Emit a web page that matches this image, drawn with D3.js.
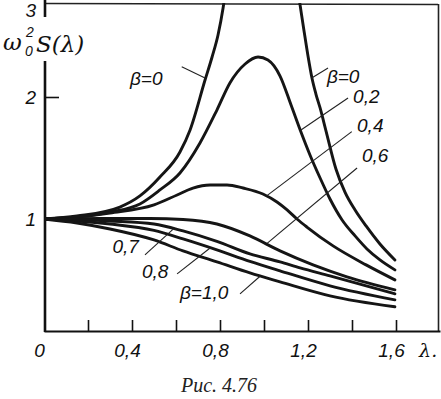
<!DOCTYPE html>
<html><head><meta charset="utf-8">
<script src="https://cdn.jsdelivr.net/npm/d3@7"></script>
<style>body{margin:0;background:#fff}svg{display:block}</style>
</head><body>
<svg id="c" width="441" height="399"></svg>
<script>
// ---- data: [lambda, omega0^2 S(lambda)] ----
const beta0Left = [[0,1],[0.15,1.025],[0.345,1.098],[0.436,1.189],[0.527,1.344],[0.618,1.549],[0.664,1.73],[0.732,2.195],[0.764,2.46],[0.791,2.713],[0.814,3.023],[0.827,3.253]];
const beta0Right = [[1.15,3.287],[1.164,3.057],[1.182,2.759],[1.2,2.471],[1.218,2.218],[1.236,2.034],[1.255,1.91],[1.282,1.721],[1.327,1.41],[1.368,1.221],[1.414,1.074],[1.464,0.943],[1.527,0.795],[1.595,0.664]];
const beta02 = [[0,1],[0.15,1.016],[0.3,1.057],[0.436,1.123],[0.527,1.238],[0.618,1.377],[0.709,1.623],[0.786,1.893],[0.845,2.161],[0.914,2.379],[0.973,2.46],[1.018,2.425],[1.073,2.241],[1.123,1.934],[1.168,1.713],[1.209,1.525],[1.255,1.336],[1.3,1.164],[1.355,0.992],[1.414,0.861],[1.468,0.754],[1.527,0.664],[1.595,0.582]];
const beta04 = [[0,1],[0.15,1.016],[0.3,1.049],[0.5,1.115],[0.605,1.197],[0.677,1.254],[0.755,1.279],[0.832,1.279],[0.905,1.254],[0.995,1.205],[1.059,1.139],[1.105,1.074],[1.15,1.0],[1.195,0.934],[1.314,0.779],[1.464,0.623],[1.595,0.5]];
const beta06 = [[0,1],[0.255,1.004],[0.482,1.004],[0.632,0.996],[0.786,0.959],[0.936,0.861],[1.073,0.738],[1.223,0.623],[1.377,0.525],[1.595,0.418]];
const beta07 = [[0,1],[0.15,0.996],[0.3,0.984],[0.5,0.959],[0.632,0.902],[0.786,0.816],[0.936,0.713],[1.073,0.648],[1.164,0.598],[1.3,0.533],[1.595,0.385]];
const beta08 = [[0,1],[0.15,0.984],[0.3,0.959],[0.5,0.906],[0.632,0.836],[0.786,0.746],[0.936,0.652],[1.073,0.574],[1.3,0.451],[1.595,0.336]];
const beta10 = [[0,1],[0.15,0.967],[0.3,0.918],[0.5,0.828],[0.632,0.738],[0.786,0.648],[0.936,0.557],[1.073,0.484],[1.3,0.369],[1.595,0.279]];
const xTickValues = [0,0.2,0.4,0.6,0.8,1.0,1.2,1.4,1.6];
const xTickLabels = {"0":"0","0.4":"0,4","0.8":"0,8","1.2":"1,2","1.6":"1,6"};
const yTickValues = [1,2,3];
const yTickLabels = ["1","2","3"];
// curve labels: text, label anchor [lambda, value], leader end [lambda, value]
const curveLabels = [
  {t:"β=0", at:[0.391,2.14], from:[0.626,2.348], to:[0.732,2.218]},
  {t:"β=0", at:[1.286,2.16], from:[1.291,2.333], to:[1.217,2.218]},
  {t:"0,2", at:[1.405,1.95], from:[1.382,1.992], to:[1.168,1.73]},
  {t:"0,4", at:[1.423,1.71], from:[1.399,1.716], to:[1.012,1.19]},
  {t:"0,6", at:[1.445,1.47], from:[1.423,1.418], to:[1.014,0.80]},
  {t:"0,7", at:[0.311,0.72], from:[0.459,0.705], to:[0.586,0.915]},
  {t:"0,8", at:[0.445,0.515], from:[0.605,0.549], to:[0.755,0.762]},
  {t:"β=1,0", at:[0.618,0.346], from:[0.891,0.385], to:[0.982,0.53]}
];

const svg = d3.select("#c");
const x = d3.scaleLinear().domain([0,1.8]).range([44,440]);
const y = d3.scaleLinear().domain([0.08,1,2,3]).range([331,219,97,10]);
const font = "'Liberation Sans', Arial, sans-serif";

svg.append("defs").append("clipPath").attr("id","clip")
  .append("rect").attr("x",44).attr("y",3).attr("width",394).attr("height",328);

// frame (top and right)
svg.append("line").attr("x1",44).attr("x2",438).attr("y1",3.5).attr("y2",4.5).attr("stroke","#222").attr("stroke-width",1.6);
svg.append("line").attr("x1",438.5).attr("x2",438.5).attr("y1",4).attr("y2",331).attr("stroke","#222").attr("stroke-width",1.6);

// x axis
const xa = svg.append("g").attr("transform","translate(0,331)")
  .call(d3.axisBottom(x).tickValues(xTickValues).tickSizeInner(-11).tickSizeOuter(0).tickPadding(13)
    .tickFormat(d => xTickLabels[String(+d.toFixed(1))] || ""));
xa.select(".domain").attr("stroke","#111").attr("stroke-width",2.2);
xa.selectAll(".tick line").attr("stroke","#111").attr("stroke-width",1.6);
xa.selectAll(".tick").filter(d => d === 0).select("line").remove();
xa.selectAll("text").attr("font-family",font).attr("font-style","italic").attr("font-size",19).attr("fill","#111").attr("dx",-5);
svg.append("text").attr("x",x(1.705)).attr("y",357).attr("font-family","'DejaVu Serif', serif").attr("font-style","italic")
  .attr("font-size",19).attr("fill","#111").text("λ.");

// y axis
const ya = svg.append("g").attr("transform","translate(44,0)")
  .call(d3.axisLeft(y).tickValues(yTickValues).tickSizeInner(-15).tickSizeOuter(0).tickPadding(8)
    .tickFormat((d,i) => yTickLabels[i]));
ya.select(".domain").remove();
ya.selectAll(".tick line").attr("stroke","#111").attr("stroke-width",1.6);
ya.selectAll(".tick").filter(d => d === 3).select("line").remove();
ya.selectAll("text").attr("font-family",font).attr("font-style","italic").attr("font-size",19).attr("fill","#111");
svg.append("line").attr("x1",45).attr("x2",45).attr("y1",0).attr("y2",332).attr("stroke","#111").attr("stroke-width",2.6);

// y label with white background
svg.append("rect").attr("x",0).attr("y",17).attr("width",84).attr("height",44).attr("fill","#fff");
const yl = svg.append("g").attr("font-family","'DejaVu Serif', serif").attr("font-style","italic").attr("fill","#111");
yl.append("text").attr("x",3).attr("y",50).attr("font-size",23).text("ω");
yl.append("text").attr("x",26).attr("y",37).attr("font-size",14).attr("font-family",font).text("2");
yl.append("text").attr("x",25).attr("y",56).attr("font-size",14).attr("font-family",font).text("0");
yl.append("text").attr("x",36).attr("y",52).attr("font-size",23).text("S(λ)");

// curves
const line = d3.line().x(d => x(d[0])).y(d => y(d[1])).curve(d3.curveMonotoneX);
const curves = svg.append("g").attr("clip-path","url(#clip)");
[beta0Left, beta0Right, beta02, beta04, beta06, beta07, beta08, beta10].forEach(s => {
  curves.append("path").attr("d", line(s)).attr("fill","none").attr("stroke","#151515")
    .attr("stroke-width",2.9).attr("stroke-linejoin","round").attr("stroke-linecap","round");
});

// curve labels and leaders
curveLabels.forEach(c => {
  svg.append("line").attr("x1",x(c.from[0])).attr("y1",y(c.from[1])).attr("x2",x(c.to[0])).attr("y2",y(c.to[1]))
    .attr("stroke","#222").attr("stroke-width",1.1);
  svg.append("text").attr("x",x(c.at[0])).attr("y",y(c.at[1])).attr("font-family",font).attr("font-style","italic")
    .attr("font-size",19).attr("fill","#111").text(c.t);
});

// caption
svg.append("text").attr("x",219).attr("y",392).attr("text-anchor","middle").attr("font-family","'Liberation Serif', serif")
  .attr("font-style","italic").attr("font-size",20).attr("fill","#222").text("Рис. 4.76");
</script>
</body></html>
